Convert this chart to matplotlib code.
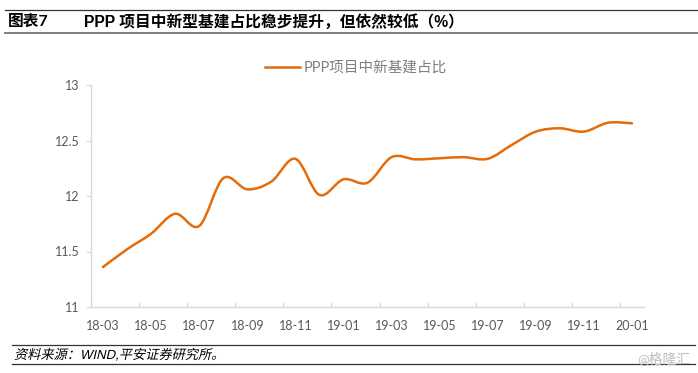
import matplotlib
matplotlib.use("Agg")
import matplotlib.pyplot as plt
from matplotlib.lines import Line2D
from matplotlib.patches import PathPatch
from matplotlib.patheffects import AbstractPathEffect
from matplotlib.path import Path
from matplotlib.transforms import Affine2D

months = ["18-03", "18-04", "18-05", "18-06", "18-07", "18-08", "18-09", "18-10",
          "18-11", "18-12", "19-01", "19-02", "19-03", "19-04", "19-05", "19-06",
          "19-07", "19-08", "19-09", "19-10", "19-11", "19-12", "20-01"]
share = [11.36, 11.52, 11.66, 11.84, 11.73, 12.16, 12.06, 12.13,
         12.335, 12.01, 12.15, 12.12, 12.35, 12.33, 12.34, 12.35,
         12.335, 12.46, 12.58, 12.61, 12.58, 12.66, 12.655]
y_ticks = [11, 11.5, 12, 12.5, 13]
y_labels = ["11", "11.5", "12", "12.5", "13"]
series_name = "PPP项目中新基建占比"
title_left = "图表7"
title_right = "PPP 项目中新型基建占比稳步提升，但依然较低（%）"
source = "资料来源：WIND,平安证券研究所。"
watermark = "@格隆汇"

W, H = 698, 373
LATIN_CJK = ["Lato", "Noto Sans CJK SC"]
ARIAL_CJK = ["Liberation Sans", "Noto Sans CJK SC"]
ORANGE = "#E46C0A"
GREY = "#595959"
AXIS = "#D9D9D9"


class Slant(AbstractPathEffect):
    # the CJK fonts have no italic, so lean the glyphs around the baseline
    def __init__(self, baseline):
        super().__init__()
        self.baseline = baseline

    def draw_path(self, renderer, gc, tpath, affine, rgbFace=None):
        lean = Affine2D().translate(0, -self.baseline).skew_deg(13, 0).translate(0, self.baseline)
        renderer.draw_path(gc, tpath, affine + lean, rgbFace)


def smooth_path(xs, ys):
    # same kind of curve as a "smoothed line" in a spreadsheet chart
    verts = [(xs[0], ys[0])]
    codes = [Path.MOVETO]
    n = len(xs)
    for i in range(n - 1):
        a = max(i - 1, 0)
        d = min(i + 2, n - 1)
        verts.append((xs[i] + (xs[i + 1] - xs[a]) / 6, ys[i] + (ys[i + 1] - ys[a]) / 6))
        verts.append((xs[i + 1] - (xs[d] - xs[i]) / 6, ys[i + 1] - (ys[d] - ys[i]) / 6))
        verts.append((xs[i + 1], ys[i + 1]))
        codes += [Path.CURVE4] * 3
    return Path(verts, codes)


fig = plt.figure(figsize=(W / 100, H / 100), dpi=100)
ax = fig.add_axes([91 / W, 1 - 307 / H, (644 - 91) / W, (307 - 85) / H])

x = list(range(len(months)))
ax.add_patch(PathPatch(smooth_path(x, share), fill=False, edgecolor=ORANGE,
                       linewidth=1.8, capstyle="round"))
ax.set_xlim(-0.5, len(months) - 0.5)
ax.set_ylim(11, 13)

ax.set_yticks(y_ticks)
ax.set_yticklabels(y_labels, family=LATIN_CJK, fontsize=9, color=GREY)
ax.tick_params(axis="y", length=3.6, width=0.8, color=AXIS, pad=4.5)

# labels sit under every second month, ticks between the months
ax.set_xticks(x[::2])
ax.set_xticklabels(months[::2], family=LATIN_CJK, fontsize=9, color=GREY)
ax.tick_params(axis="x", length=0, pad=9.5)
ax.set_xticks([i - 0.5 for i in x[::2]], minor=True)
ax.tick_params(axis="x", which="minor", direction="in", length=3.6, width=0.8, color=AXIS)

for side in ["top", "right"]:
    ax.spines[side].set_visible(False)
for side in ["left", "bottom"]:
    ax.spines[side].set_color(AXIS)
    ax.spines[side].set_linewidth(1.0)

handle = Line2D([], [], color=ORANGE, linewidth=1.8)
fig.legend([handle], [series_name], loc="center", bbox_to_anchor=(356 / W, 1 - 68 / H),
           frameon=False, handlelength=2.4, handletextpad=0.3,
           prop={"family": LATIN_CJK, "size": 10.5}, labelcolor="#7F7F7F")

fig.text(8 / W, 1 - 22 / H, title_left, family=LATIN_CJK, fontsize=11.3, fontweight="bold",
         va="center", color="black")
fig.text(84 / W, 1 - 22 / H, title_right, family=ARIAL_CJK,
         fontsize=11.3, fontweight="bold", va="center", color="black")
src = fig.text(14 / W, 1 - 359 / H, source, family=ARIAL_CJK,
               fontsize=9.5, va="baseline", color="black")
src.set_path_effects([Slant(H - 359)])
fig.text(691 / W, 1 - 358.5 / H, watermark, family=LATIN_CJK, fontsize=10,
         ha="right", va="center", color="#BFBFBF")

for y0, x0, x1, col, lw in [(9.5, 5, 698, "#333333", 0.9), (32.5, 5, 698, "#7F7F7F", 1.4),
                            (345, 12, 695, "#333333", 0.9), (364, 12, 695, "#333333", 0.9)]:
    fig.add_artist(Line2D([x0 / W, x1 / W], [1 - y0 / H, 1 - y0 / H], color=col, linewidth=lw))

fig.savefig("out.png", dpi=100)
